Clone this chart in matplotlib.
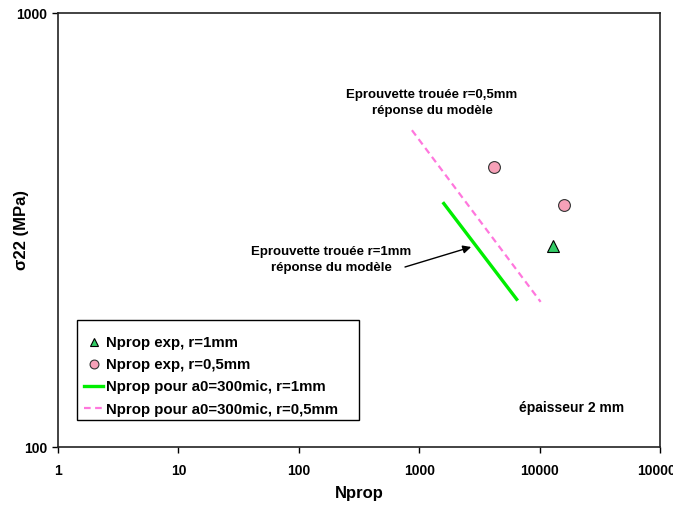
import matplotlib
matplotlib.use("Agg")
import matplotlib.pyplot as plt
from matplotlib.patches import Rectangle

plt.rcParams['font.family'] = ['Liberation Sans', 'DejaVu Sans']
plt.rcParams['font.weight'] = 'bold'

# data
exp_r1_x = [12800]
exp_r1_y = [290]
exp_r05_x = [4150, 15800]
exp_r05_y = [441, 362]
model_r1_x = [1600, 6450]
model_r1_y = [364, 219]
model_r05_x = [870, 10200]
model_r05_y = [537, 216]
xticks = [1, 10, 100, 1000, 10000, 100000]
yticks = [100, 1000]

H = 508
fig = plt.figure(figsize=(6.73, 5.08), dpi=100)
ax = fig.add_axes([0.0862, 0.12, 0.8945, 0.8544])

ax.plot(exp_r1_x, exp_r1_y, linestyle='none', marker='^', markersize=8.5,
        markerfacecolor='#33cc66', markeredgecolor='black', markeredgewidth=0.8,
        label='Nprop exp, r=1mm')
ax.plot(exp_r05_x, exp_r05_y, linestyle='none', marker='o', markersize=8.5,
        markerfacecolor='#f7a1b8', markeredgecolor='#333333', markeredgewidth=0.8,
        label='Nprop exp, r=0,5mm')
ax.plot(model_r1_x, model_r1_y, color='#00ee00', linewidth=2.4,
        label='Nprop pour a0=300mic, r=1mm')
ax.plot(model_r05_x, model_r05_y, color='#ff77dd', linewidth=1.6,
        linestyle=(0, (3, 2)), label='Nprop pour a0=300mic, r=0,5mm')

ax.set_xscale('log')
ax.set_yscale('log')
ax.set_xlim(1, 100000)
ax.set_ylim(100, 1000)
ax.set_xticks(xticks)
ax.set_xticklabels([str(v) for v in xticks])
ax.set_yticks(yticks)
ax.set_yticklabels([str(v) for v in yticks])
ax.minorticks_off()
ax.tick_params(axis='both', direction='out', length=4, width=1, labelsize=10, pad=4)
ax.tick_params(axis='x', pad=8)
for lab in ax.get_xticklabels() + ax.get_yticklabels():
    lab.set_fontweight('bold')
for sp in ax.spines.values():
    sp.set_linewidth(1.2)
    sp.set_color('#222222')

ax.set_xlabel('Nprop', fontsize=12, fontweight='bold')
ax.xaxis.set_label_coords(0.5, -0.106)
ax.xaxis.label.set_va('center')
ax.set_ylabel('σ22 (MPa)', fontsize=12, fontweight='bold')
ax.yaxis.set_label_coords(-0.06, 0.5)
ax.yaxis.label.set_va('center')

# legend box
ax.add_patch(Rectangle((0.0316, 0.0622), 0.5 - 0.0316, 0.2926 - 0.0622,
                       transform=ax.transAxes, facecolor='white', edgecolor='black',
                       linewidth=1.0, zorder=4))
leg = ax.legend(loc='upper left', bbox_to_anchor=(0.0316, 0.2719), frameon=False,
                fontsize=10.8, handlelength=1.3, handletextpad=0.2, borderpad=0.45,
                labelspacing=0.55, borderaxespad=0, markerscale=0.75)
leg.set_zorder(5)
for t in leg.get_texts():
    t.set_fontweight('bold')

ax.text(432, H - 103, 'Eprouvette trouée r=0,5mm\nréponse du modèle', transform=None,
        fontsize=9.5, fontweight='bold', ha='center', va='center', linespacing=1.45)

ax.text(331, H - 260, 'Eprouvette trouée r=1mm\nréponse du modèle', transform=None,
        fontsize=9.5, fontweight='bold', ha='center', va='center', linespacing=1.45)
ax.annotate('', xy=(2700, 289), xycoords='data',
            xytext=(405, H - 267), textcoords='figure pixels',
            arrowprops=dict(arrowstyle='-|>', color='black', lw=1.0,
                            shrinkA=0, shrinkB=0, mutation_scale=12))
ax.text(572, H - 408, 'épaisseur 2 mm', transform=None, fontsize=10,
        fontweight='bold', ha='center', va='center')

fig.savefig('out.png', dpi=100)
